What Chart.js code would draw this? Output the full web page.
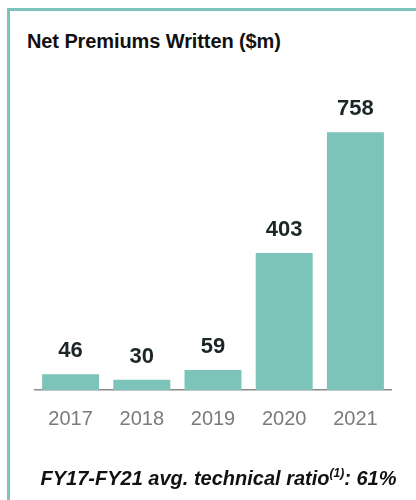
<!DOCTYPE html>
<html>
<head>
<meta charset="utf-8">
<script src="https://cdn.jsdelivr.net/npm/chart.js@4"></script>
<style>
  html, body { margin: 0; padding: 0; background: #fff; width: 416px; height: 500px; overflow: hidden; }
  #frame { position: absolute; left: 7px; top: 8px; width: 420px; height: 500px;
           border-left: 3px solid #7cc3b9; border-top: 3px solid #7cc3b9; box-sizing: border-box; }
  #title { position: absolute; left: 27px; top: 30px; font-family: "Liberation Sans", Arial, sans-serif;
           font-weight: bold; font-size: 20px; color: #111; white-space: nowrap; letter-spacing: -0.1px; }
  #footer { position: absolute; left: 0; width: 437px; top: 467px; text-align: center;
            font-family: "Liberation Sans", Arial, sans-serif; font-weight: bold; font-style: italic;
            font-size: 20px; color: #111; white-space: nowrap; }
  #footer sup { font-size: 12px; vertical-align: 8px; line-height: 0; }
  canvas { position: absolute; left: 0; top: 0; }
</style>
</head>
<body>
<div id="frame"></div>
<div id="title">Net Premiums Written ($m)</div>
<canvas id="c" width="416" height="500"></canvas>
<div id="footer">FY17-FY21 avg. technical ratio<sup>(1)</sup>: 61%</div>
<script>
const categories = ["2017", "2018", "2019", "2020", "2021"];
const premiums = [46, 30, 59, 403, 758];

const valueLabels = {
  id: "valueLabels",
  afterDatasetsDraw(chart) {
    const ctx = chart.ctx;
    const meta = chart.getDatasetMeta(0);
    ctx.save();
    ctx.font = "bold 22px 'Liberation Sans', Arial, sans-serif";
    ctx.fillStyle = "#1c2626";
    ctx.textAlign = "center";
    ctx.textBaseline = "middle";
    meta.data.forEach((bar, i) => {
      ctx.fillText(String(premiums[i]), bar.x, bar.y - 23);
    });
    ctx.restore();
  }
};

new Chart(document.getElementById("c"), {
  type: "bar",
  data: {
    labels: categories,
    datasets: [{
      data: premiums,
      backgroundColor: "#7cc3b9",
      borderWidth: 0,
      categoryPercentage: 0.8,
      barPercentage: 1.0
    }]
  },
  options: {
    responsive: false,
    animation: false,
    events: [],
    layout: { padding: { left: 35, right: 25, top: 118, bottom: 52 } },
    plugins: { legend: { display: false }, tooltip: { enabled: false }, title: { display: false } },
    scales: {
      y: { display: false, min: 0, max: 800 },
      x: {
        grid: { display: false, drawTicks: false },
        border: { display: true, color: "#8a8a8a", width: 1.5 },
        ticks: { color: "#7a7a7a", font: { family: "'Liberation Sans', Arial, sans-serif", size: 20 }, padding: 17 }
      }
    }
  },
  plugins: [valueLabels]
});
</script>
</body>
</html>
